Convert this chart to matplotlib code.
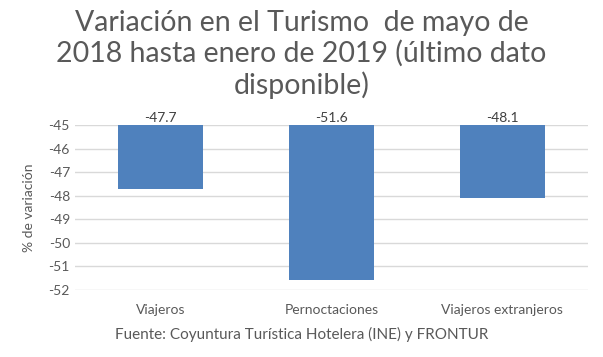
import matplotlib.pyplot as plt

plt.rcParams['font.family'] = ['Lato', 'DejaVu Sans']

categorias = ["Viajeros", "Pernoctaciones", "Viajeros extranjeros"]
valores = [-47.7, -51.6, -48.1]
etiquetas = ["-47.7", "-51.6", "-48.1"]
base = -45
yticks = [-45, -46, -47, -48, -49, -50, -51, -52]

gris = '#595959'
azul = '#4F81BD'

fig = plt.figure(figsize=(6.03, 3.57), dpi=100)
ax = fig.add_axes([0.124, 0.188, 0.851, 0.462])

x = range(len(categorias))
alturas = [v - base for v in valores]
ax.bar(x, alturas, bottom=base, width=0.5, color=azul, zorder=3)

# etiquetas de datos encima de la base
for i, t in zip(x, etiquetas):
    ax.text(i, base + 0.03, t, ha='center', va='bottom', fontsize=10, color='#404040')

ax.set_ylim(-52, -45)
ax.set_xlim(-0.5, len(categorias) - 0.5)
ax.set_yticks(yticks)
ax.set_yticklabels([str(v) for v in yticks])
ax.set_xticks(list(x))
ax.set_xticklabels(categorias)
ax.tick_params(axis='both', length=0, colors=gris, labelsize=10)
ax.tick_params(axis='x', pad=10)
ax.grid(axis='y', color='#d9d9d9', linewidth=1, zorder=0)
for s in ax.spines.values():
    s.set_visible(False)

ax.set_ylabel("% de variación", color=gris, fontsize=10, labelpad=10)

fig.text(0.5, 0.848, "Variación en el Turismo  de mayo de\n2018 hasta enero de 2019 (último dato\ndisponible)",
         ha='center', va='center', fontsize=20.5, color=gris, linespacing=1.2)
fig.text(0.5, 0.064, "Fuente: Coyuntura Turística Hotelera (INE) y FRONTUR",
         ha='center', va='center', fontsize=11, color=gris)

fig.savefig("out.png", dpi=100)
